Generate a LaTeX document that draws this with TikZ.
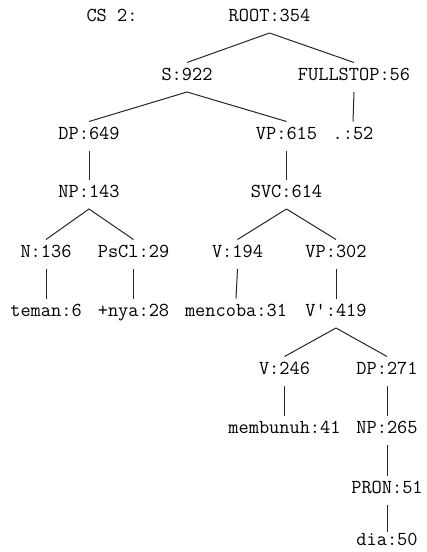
\documentclass[tikz,border=0pt]{standalone}
\begin{document}
\begin{tikzpicture}[x=1pt,y=-1pt,
  lbl/.style={font=\ttfamily\fontsize{19.8}{22}\selectfont, text=black, inner sep=0pt, text height=9.5pt, text depth=0pt, anchor=center},
  br/.style={line width=1pt, black!85}]
\useasboundingbox (0,0) rectangle (427,552);
\node[lbl] (cs) at (112,17) {CS 2:};
\node[lbl] (root) at (269.5,17) {ROOT:354};
\node[lbl] (s) at (187,76) {S:922};
\node[lbl] (fs) at (354,76) {FULLSTOP:56};
\node[lbl] (dp1) at (89,135) {DP:649};
\node[lbl] (vp1) at (286.5,135) {VP:615};
\node[lbl] (dot) at (353,135) {.:52};
\node[lbl] (np1) at (89,193) {NP:143};
\node[lbl] (svc) at (286.5,193) {SVC:614};
\node[lbl] (n) at (46,253) {N:136};
\node[lbl] (pscl) at (133.5,253) {PsCl:29};
\node[lbl] (v1) at (237.5,253) {V:194};
\node[lbl] (vp2) at (336,253) {VP:302};
\node[lbl] (teman) at (46,312) {teman:6};
\node[lbl] (nya) at (133.5,312) {+nya:28};
\node[lbl] (mencoba) at (236,312) {mencoba:31};
\node[lbl] (vbar) at (336,312) {V':419};
\node[lbl] (v2) at (284.5,370) {V:246};
\node[lbl] (dp2) at (387,370) {DP:271};
\node[lbl] (membunuh) at (284.5,429) {membunuh:41};
\node[lbl] (np2) at (387,429) {NP:265};
\node[lbl] (pron) at (387,489) {PRON:51};
\node[lbl] (dia) at (387,541) {dia:50};
\foreach \a/\b in {root/s, root/fs, fs/dot, s/dp1, s/vp1, dp1/np1, vp1/svc,
  np1/n, np1/pscl, svc/v1, svc/vp2, n/teman, pscl/nya, v1/mencoba, vp2/vbar,
  vbar/v2, vbar/dp2, v2/membunuh, dp2/np2, np2/pron}
  \draw[br] ([yshift=-16pt]\a.center) -- ([yshift=13.5pt]\b.center);
\draw[br] ([yshift=-16pt]pron.center) -- ([yshift=9.5pt]dia.center);
\end{tikzpicture}
\end{document}
